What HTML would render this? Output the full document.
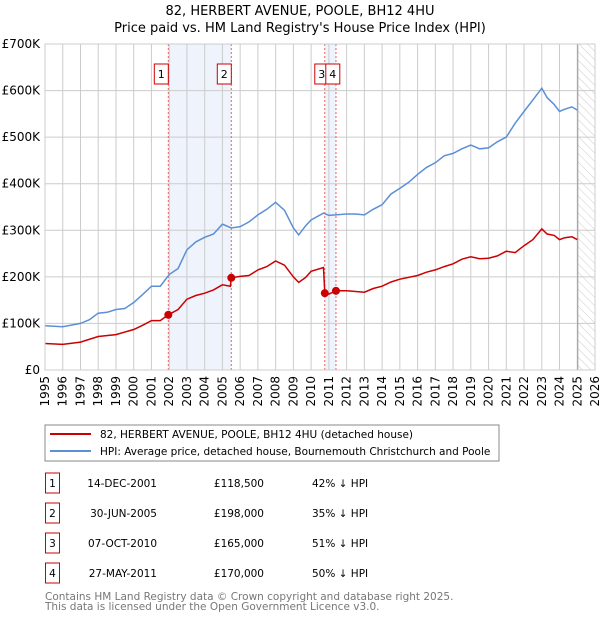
<!DOCTYPE html>
<html><head><meta charset="utf-8"><style>
body{margin:0;background:#fff;font-family:"Liberation Sans","DejaVu Sans",sans-serif;}
#wrap{position:relative;width:600px;height:620px;overflow:hidden;}
</style></head><body><div id="wrap">
<svg id="c" width="600" height="620" style="position:absolute;left:0;top:0" font-family="DejaVu Sans, Liberation Sans, sans-serif">
<defs><pattern id="hatch" width="6" height="6" patternUnits="userSpaceOnUse" patternTransform="rotate(-45)"><line x1="0" y1="0" x2="0" y2="6" stroke="#ccc" stroke-width="1"/></pattern></defs>
<text x="300" y="15" text-anchor="middle" font-size="13">82, HERBERT AVENUE, POOLE, BH12 4HU</text>
<text x="300" y="32" text-anchor="middle" font-size="13">Price paid vs. HM Land Registry's House Price Index (HPI)</text>
<g id="plot"></g>
<rect x="45" y="425" width="454" height="36" fill="#fff" stroke="#888"/>
<line x1="50" y1="434" x2="91" y2="434" stroke="#cc0000" stroke-width="2"/>
<text x="100" y="438" font-size="10.5">82, HERBERT AVENUE, POOLE, BH12 4HU (detached house)</text>
<line x1="50" y1="451" x2="91" y2="451" stroke="#5b8fd6" stroke-width="2"/>
<text x="100" y="455" font-size="10.5">HPI: Average price, detached house, Bournemouth Christchurch and Poole</text>
<g id="tbl"></g>
<text x="45" y="600" font-size="10.5" fill="#777">Contains HM Land Registry data © Crown copyright and database right 2025.</text>
<text x="45" y="610" font-size="10.5" fill="#777">This data is licensed under the Open Government Licence v3.0.</text>
</svg>
<script>
const hpiYears=[1995,1996,1997,1997.5,1998,1998.5,1999,1999.5,2000,2000.5,2001,2001.5,2002,2002.5,2003,2003.5,2004,2004.5,2005,2005.5,2006,2006.5,2007,2007.5,2008,2008.5,2009,2009.3,2009.7,2010,2010.7,2011,2012,2012.5,2013,2013.5,2014,2014.5,2015,2015.5,2016,2016.5,2017,2017.5,2018,2018.5,2019,2019.5,2020,2020.5,2021,2021.5,2022,2022.5,2023,2023.3,2023.7,2024,2024.3,2024.7,2025];
const hpiValues=[95,93,100,108,122,124,130,132,145,162,180,180,205,218,258,275,285,292,313,305,308,318,333,345,360,343,305,290,310,322,337,332,335,335,333,345,355,378,390,403,420,435,445,460,465,475,483,475,477,490,500,530,555,580,605,585,570,555,560,565,558];
const ppYears=[1995,1996,1997,1998,1999,2000,2000.5,2001,2001.5,2001.95,2002.5,2003,2003.5,2004,2004.5,2005,2005.45,2005.5,2006,2006.5,2007,2007.5,2008,2008.5,2009,2009.3,2009.7,2010,2010.7,2010.77,2011,2011.4,2012,2013,2013.5,2014,2014.5,2015,2016,2016.5,2017,2017.5,2018,2018.5,2019,2019.5,2020,2020.5,2021,2021.5,2022,2022.5,2023,2023.3,2023.7,2024,2024.3,2024.7,2025];
const ppValues=[57,55,60,72,76,87,96,106,106,118.5,130,152,160,165,172,183,180,198,201,203,215,222,234,225,200,188,199,212,220,165,163,170,170,167,175,180,189,195,203,210,215,222,228,238,243,239,240,245,255,252,267,280,303,292,289,280,284,286,280];
const saleYears=[2001.95,2005.5,2010.77,2011.4];
const saleValues=[118.5,198,165,170];
const saleLabels=["1","2","3","4"];
const saleDates=["14-DEC-2001","30-JUN-2005","07-OCT-2010","27-MAY-2011"];
const salePrices=["£118,500","£198,000","£165,000","£170,000"];
const saleDiffs=["42% ↓ HPI","35% ↓ HPI","51% ↓ HPI","50% ↓ HPI"];
const yTicks=[0,100,200,300,400,500,600,700];
const yTickLabels=["£0","£100K","£200K","£300K","£400K","£500K","£600K","£700K"];
const xTicks=[1995,1996,1997,1998,1999,2000,2001,2002,2003,2004,2005,2006,2007,2008,2009,2010,2011,2012,2013,2014,2015,2016,2017,2018,2019,2020,2021,2022,2023,2024,2025,2026];

const NS="http://www.w3.org/2000/svg";
const X0=45,X1=595,Y0=370,Y1=44;
const xs=y=>X0+(y-1995)/(2026-1995)*(X1-X0);
const ys=v=>Y0-v/700*(Y0-Y1);
const plot=document.getElementById('plot');
function mk(tag,at,parent){const e=document.createElementNS(NS,tag);for(const k in at)e.setAttribute(k,at[k]);(parent||plot).appendChild(e);return e;}
let e=mk('rect',{x:xs(saleYears[0]),y:Y1,width:xs(saleYears[1])-xs(saleYears[0]),height:Y0-Y1,fill:'#eef3fc'});


e=mk('rect',{x:xs(saleYears[2]),y:Y1,width:xs(saleYears[3])-xs(saleYears[2]),height:Y0-Y1,fill:'#eef3fc'});


e=mk('rect',{x:xs(2025.03),y:Y1,width:X1-xs(2025.03),height:Y0-Y1,fill:'url(#hatch)'});


xTicks.forEach((t,i)=>{
 e=mk('line',{x1:xs(t),x2:xs(t),y1:Y1,y2:Y0,stroke:'#ccc','stroke-width':1});
 
 
 e=mk('text',{x:0,y:0,'font-size':12,'text-anchor':'end',transform:`translate(${xs(t)+4},376) rotate(-90)`});
 e.textContent=t;
 
 
});
yTicks.forEach((t,i)=>{
 e=mk('line',{x1:X0,x2:X1,y1:ys(t),y2:ys(t),stroke:'#ccc','stroke-width':1});
 
 
 e=mk('text',{x:40,y:ys(t)+4,'font-size':12,'text-anchor':'end'});
 e.textContent=yTickLabels[i];
 
 
});
e=mk('line',{x1:xs(2025.03),x2:xs(2025.03),y1:Y1,y2:Y0,stroke:'#999','stroke-width':1});


saleYears.forEach((s,i)=>{
 e=mk('line',{x1:xs(s),x2:xs(s),y1:Y1,y2:Y0,stroke:'#f06060','stroke-width':1,'stroke-dasharray':'2,2'});
 
 
});
const path=(xa,va)=>xa.map((y,i)=>(i?'L':'M')+xs(y).toFixed(1)+','+ys(va[i]).toFixed(1)).join('');
e=mk('path',{d:path(hpiYears,hpiValues),fill:'none',stroke:'#5b8fd6','stroke-width':1.5});


e=mk('path',{d:path(ppYears,ppValues),fill:'none',stroke:'#cc0000','stroke-width':1.5});


saleYears.forEach((s,i)=>{
 e=mk('circle',{cx:xs(s),cy:ys(saleValues[i]),r:4,fill:'#cc0000'});
 
 
 let bx=xs(s)-14;
 if(i==2)bx=xs(s)-10;
 if(i==3)bx=xs(saleYears[2])+1;
 e=mk('rect',{x:bx,y:64,width:14,height:20,fill:'#fff',stroke:'#cc0000'});
 
 
 e=mk('text',{x:bx+7,y:78,'font-size':11,'text-anchor':'middle'});
 e.textContent=saleLabels[i];
 
 
});
e=mk('rect',{x:X0,y:Y1,width:X1-X0,height:Y0-Y1,fill:'none',stroke:'#ccc'});


const tbl=document.getElementById('tbl');
saleLabels.forEach((l,i)=>{
 const y=483+i*30;
 e=mk('rect',{x:45.5,y:y-10,width:14,height:20,fill:'#fff',stroke:'#cc0000'},tbl);
 
 
 e=mk('text',{x:52.5,y:y+4,'font-size':10.5,'text-anchor':'middle'},tbl);e.textContent=l;
 
 
 e=mk('text',{x:157,y:y+4,'font-size':10.5,'text-anchor':'end'},tbl);e.textContent=saleDates[i];
 
 
 e=mk('text',{x:264,y:y+4,'font-size':10.5,'text-anchor':'end'},tbl);e.textContent=salePrices[i];
 
 
 e=mk('text',{x:312,y:y+4,'font-size':10.5},tbl);e.textContent=saleDiffs[i];
 
 
});
</script>
</div></body></html>
